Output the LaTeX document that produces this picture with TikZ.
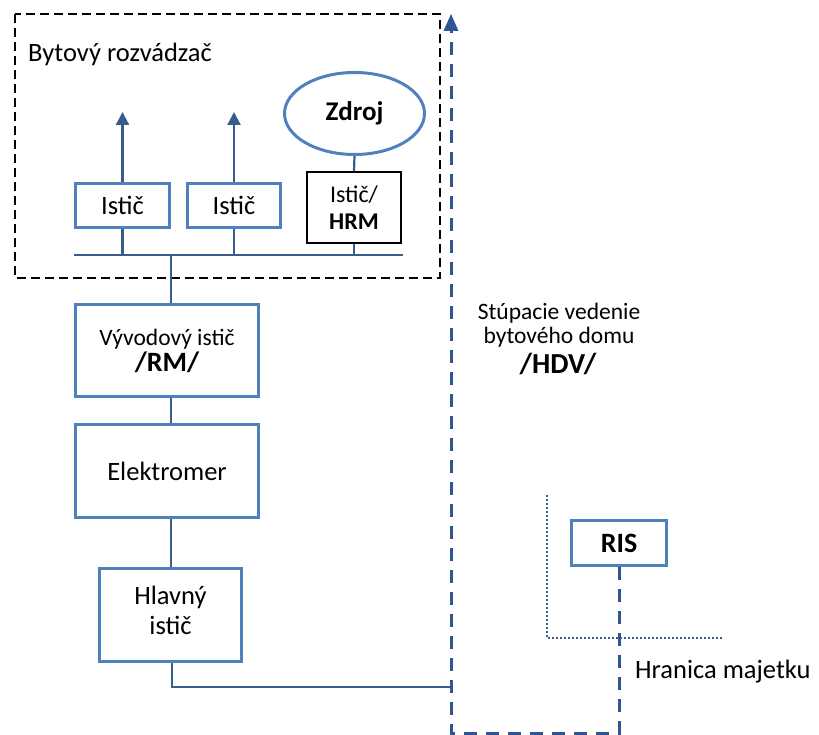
\documentclass[tikz,border=0pt]{standalone}
\usepackage{fontspec}
\setmainfont{Carlito}
\usetikzlibrary{arrows.meta,shapes.geometric}
\definecolor{boxblue}{RGB}{79,129,189}
\definecolor{linecol}{RGB}{56,93,138}
\definecolor{risercol}{RGB}{47,85,151}
\tikzset{
  bx/.style={draw=boxblue,line width=3.2pt,fill=white,inner sep=2pt,align=center,text=black},
  blkbx/.style={draw=black,line width=2pt,fill=white,inner sep=2pt,align=center},
  conn/.style={draw=linecol,line width=2.2pt},
  riser/.style={draw=risercol,line width=3pt,dash pattern=on 13pt off 9pt},
  tip/.style={-{Triangle[width=13pt,length=13pt]}},
  ftn/.style={font=\fontsize{26.5}{30}\selectfont},
  fts/.style={font=\fontsize{23.5}{28}\selectfont},
  lbl/.style={inner sep=0pt},
}
\begin{document}
\begin{tikzpicture}[x=1pt,y=-1pt]
\useasboundingbox (0,0) rectangle (819,735);
% apartment distribution board frame
\draw[black,line width=2.6pt,dash pattern=on 9pt off 5pt] (15,14) rectangle (440,278);
\node[ftn,lbl,anchor=west] (title) at (28,54) {Bytový rozvádzač};

% boxes
\node[bx,ftn,minimum width=94pt,minimum height=44pt] (i1) at (122.5,205.5) {Istič};
\node[bx,ftn,minimum width=93pt,minimum height=44pt] (i2) at (234,205.5) {Istič};
\node[blkbx,font=\fontsize{24}{27}\selectfont,minimum width=94pt,minimum height=71pt] (hrm) at (354,207.5) {Istič/\\\textbf{HRM}};
\node[draw=boxblue,line width=3pt,ellipse,minimum width=140pt,minimum height=82pt,font=\fontsize{27}{30}\selectfont\bfseries] (zdroj) at (354.5,113.5) {Zdroj};

\node[bx,fts,minimum width=183pt,minimum height=92pt] (rm) at (167,350.5) {Vývodový istič\\[-2pt]{\fontsize{28}{30}\selectfont\bfseries /RM/}};
\node[bx,ftn,minimum width=183pt,minimum height=93pt] (em) at (167,471) {Elektromer};
\node[bx,minimum width=142pt,minimum height=93pt,font=\fontsize{26.5}{30}\selectfont] (hi) at (170.5,615) {Hlavný\\istič\rule[-10pt]{0pt}{0pt}};
\node[bx,font=\fontsize{28}{30}\selectfont\bfseries,minimum width=95pt,minimum height=45pt] (ris) at (619,543) {RIS};

% coordinates
\coordinate (busL) at (74,255);
\coordinate (busR) at (403,255);
\coordinate (busM) at (171,255);
\coordinate (a1) at (122.5,112);
\coordinate (a2) at (234,112);
\coordinate (hk) at (172,687);
\coordinate (hj) at (451,687);
\coordinate (rtop) at (451,22);
\coordinate (rbl) at (451,733);
\coordinate (rbr) at (619,733);
\coordinate (d1) at (547,495);
\coordinate (d2) at (547,638);
\coordinate (d3) at (723,638);

% bus and connections
\draw[conn] (busL) -- (busR);
\draw[conn] (i1.south) -- (i1.south |- busL);
\draw[conn] (i2.south) -- (i2.south |- busL);
\draw[conn] (hrm.south) -- (hrm.south |- busL);
\draw[conn] (zdroj.south) -- (hrm.north);
\draw[conn,tip] (i1.north) -- (a1);
\draw[conn,tip] (i2.north) -- (a2);
\draw[conn] (busM) -- (busM |- rm.north);
\draw[conn] (rm.south -| busM) -- (em.north -| busM);
\draw[conn] (em.south -| busM) -- (hi.north -| busM);
\draw[conn] (hi.south -| hk) -- (hk) -- (hj);

% riser
\draw[riser] (ris.south) -- (rbr) -- (rbl) -- (rtop);
\fill[risercol] (451,14) -- (443.5,31) -- (458.5,31) -- cycle;

% property boundary
\draw[linecol,line width=1.6pt,dash pattern=on 2pt off 2pt] (d1) -- (d2) -- (d3);

% labels
\node[fts,lbl] (s1) at (559,313) {Stúpacie vedenie};
\node[fts,lbl] (s2) at (559,337) {bytového domu};
\node[lbl,font=\fontsize{29}{30}\selectfont\bfseries] (s3) at (558,364) {/HDV/};
\node[ftn,lbl,anchor=west] (hm) at (635,672) {Hranica majetku};
\end{tikzpicture}
\end{document}
